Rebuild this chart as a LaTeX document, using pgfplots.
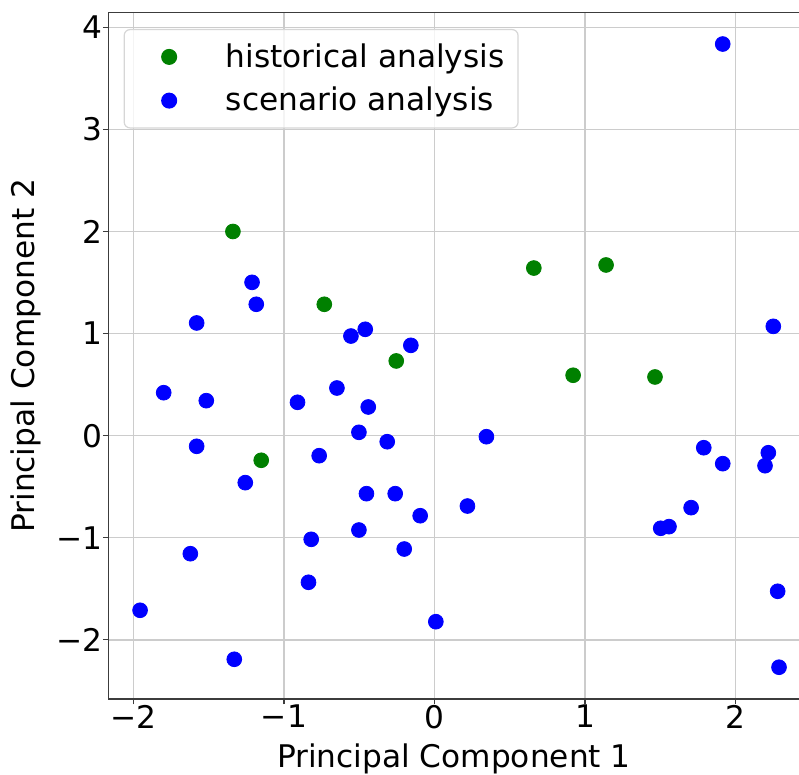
\documentclass[border=0pt]{standalone}
\usepackage{pgfplots}
\pgfplotsset{compat=1.18}
\usepackage{fontspec}
\setmainfont{DejaVu Sans}
\definecolor{mgreen}{RGB}{0,128,0}
\definecolor{mblue}{RGB}{0,0,255}
\definecolor{gridc}{RGB}{204,204,204}
\definecolor{spinec}{RGB}{60,60,60}
\definecolor{legc}{RGB}{214,214,214}
\begin{document}
\begin{tikzpicture}
\begin{axis}[
  name=ax, at={(0,0)}, anchor=south west,
  scale only axis, width=345.6pt, height=343.15pt,
  xmin=-2.167, xmax=2.425, ymin=-2.579, ymax=4.143,
  font=\fontsize{15.6}{18.7}\selectfont,
  xtick={-2,-1,0,1,2}, xticklabels={−2,−1,0,1,2},
  ytick={-2,-1,0,1,2,3,4}, yticklabels={−2,−1,0,1,2,3,4},
  tick align=outside, tick pos=left, major tick length=2.75pt,
  grid=major, major grid style={gridc, line width=0.7pt},
  axis line style={spinec, line width=0.6pt},
  tick style={spinec, line width=0.6pt},
  xticklabel style={inner sep=0pt},
  yticklabel style={inner sep=0pt},
  xlabel={Principal Component 1},
  ylabel={Principal Component 2},
  xlabel style={at={(axis description cs:0.5,-0.0991)}, anchor=base, inner sep=0pt},
  ylabel style={at={(axis description cs:-0.1071,0.5)}, anchor=base, inner sep=0pt},
  legend style={
    at={(axis description cs:0.0221,0.9763)}, anchor=north west,
    draw=legc, line width=0.6pt, rounded corners=3pt,
    fill=white, fill opacity=0.8, text opacity=1, draw opacity=1,
    inner xsep=6.8pt, inner ysep=7pt,
    row sep=8.5pt, column sep=5.8pt,
    nodes={inner sep=0pt},
  },
  legend cell align=left,
  legend image code/.code={%
    \path[draw=none, fill=none] (0pt,-3.7pt) rectangle (38.2pt,3.7pt);
    \draw[#1, mark size=3.7pt, fill opacity=1, draw opacity=1, rounded corners=0pt] plot coordinates {(15.7pt,0pt)};
  },
]
\addplot[only marks, mark=*, mark size=3.7pt, color=mgreen] coordinates {
(-1.339,2.000) (-0.732,1.287) (-0.254,0.732) (-1.151,-0.241)
(0.660,1.642) (1.140,1.672) (0.921,0.592) (1.465,0.575)
};
\addlegendentry{historical analysis}
\addplot[only marks, mark=*, mark size=3.7pt, color=mblue] coordinates {
(1.915,3.836) (-1.212,1.502) (-1.184,1.287) (-1.580,1.104)
(-0.555,0.976) (-0.460,1.042) (-0.157,0.885) (2.251,1.071)
(-1.799,0.421) (-1.516,0.343) (-0.910,0.327) (-0.648,0.467)
(-0.440,0.281) (-0.502,0.033) (-0.314,-0.059) (-1.580,-0.104)
(-0.766,-0.196) (0.345,-0.010) (-1.257,-0.460) (-0.452,-0.568)
(-0.261,-0.568) (0.219,-0.689) (-0.095,-0.784) (-0.502,-0.924)
(-0.819,-1.015) (-0.201,-1.110) (-1.622,-1.156) (-0.837,-1.436)
(-1.956,-1.710) (0.009,-1.822) (-1.330,-2.190) (1.789,-0.118)
(1.915,-0.274) (2.218,-0.167) (2.196,-0.294) (1.705,-0.705)
(1.503,-0.907) (1.558,-0.891) (2.280,-1.524) (2.289,-2.268)
};
\addlegendentry{scenario analysis}
\end{axis}
\pgfresetboundingbox
\path (-54.15pt,-38pt) rectangle (345.35pt,349.5pt);
\end{tikzpicture}
\end{document}
